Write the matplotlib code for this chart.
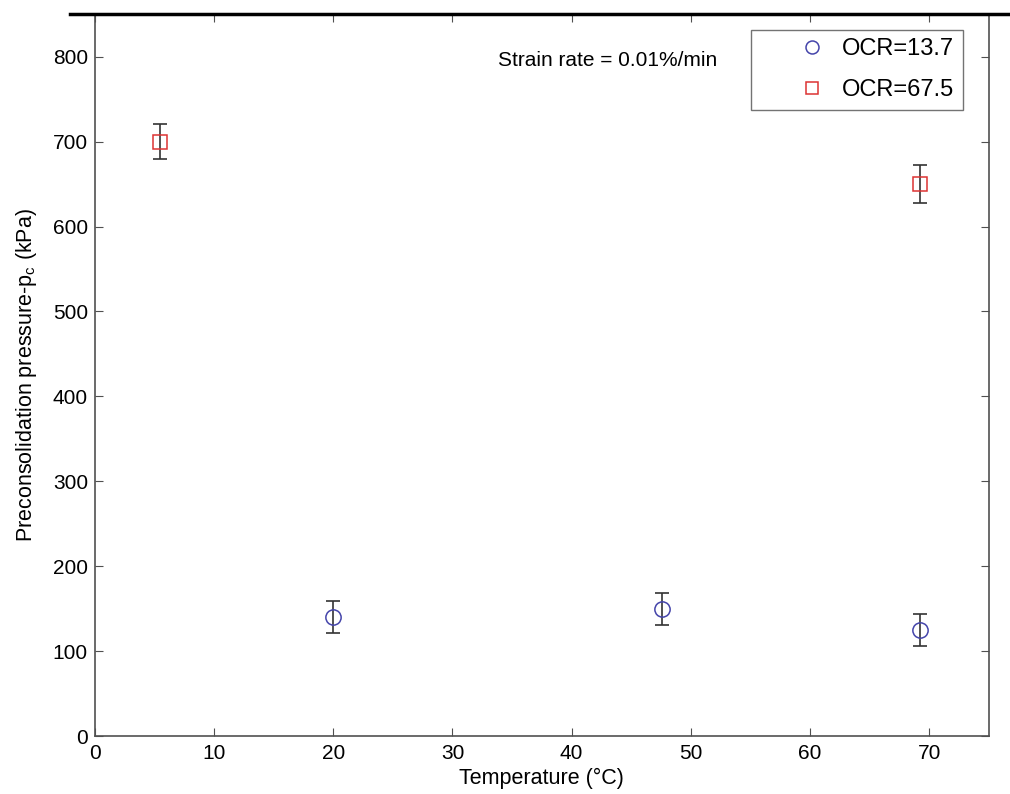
import matplotlib
matplotlib.use("Agg")
import matplotlib.pyplot as plt
from matplotlib.lines import Line2D

plt.rcParams.update({
    "font.family": ["Liberation Sans", "DejaVu Sans"],
    "font.size": 15,
})

# data
temp_low = [20.0, 47.6, 69.2]
pc_low = [140, 150, 125]
err_low = [19, 19, 19]

temp_high = [5.5, 69.2]
pc_high = [700, 650]
err_high = [21, 22]

SPINE = "#505050"

fig = plt.figure(figsize=(10.10, 7.94), dpi=100)
ax = fig.add_axes([0.094, 0.073, 0.885, 0.909])

ax.errorbar(temp_low, pc_low, yerr=err_low, fmt="none", ecolor="#333333",
            elinewidth=1.2, capsize=5, capthick=1.2)
ax.errorbar(temp_high, pc_high, yerr=err_high, fmt="none", ecolor="#333333",
            elinewidth=1.2, capsize=5, capthick=1.2)
ax.plot(temp_low, pc_low, "o", ms=11, mfc="none", mec="#4444aa", mew=1.1,
        label="OCR=13.7")
ax.plot(temp_high, pc_high, "s", ms=10, mfc="none", mec="#dd3333", mew=1.1,
        label="OCR=67.5")

ax.set_xlim(0, 75)
ax.set_ylim(0, 850)
ax.set_xticks(range(0, 71, 10))
ax.set_yticks(range(0, 801, 100))
ax.tick_params(direction="in", top=True, right=True, length=6,
               color=SPINE, labelsize=15)
ax.tick_params(axis="x", pad=6)
ax.tick_params(axis="y", pad=5)
for s in ax.spines.values():
    s.set_color(SPINE)
    s.set_linewidth(1.2)

ax.set_xlabel("Temperature (°C)", fontsize=15.5, labelpad=3)
ax.set_ylabel("Preconsolidation pressure-p$_\\mathregular{c}$ (kPa)",
              fontsize=15.5, labelpad=10)

ax.text(33.8, 795, "Strain rate = 0.01%/min", fontsize=15, va="center")

leg = ax.legend(loc="upper right", bbox_to_anchor=(0.971, 0.978),
                borderaxespad=0, fancybox=False, edgecolor=SPINE,
                fontsize=17, handletextpad=-0.97, borderpad=0.35,
                labelspacing=0.8, handlelength=4.5, markerscale=0.85)
leg.get_frame().set_linewidth(1.0)

# thick line across the top edge
fig.add_artist(Line2D([0.069, 1.0], [0.982, 0.982], color="black", lw=2.5,
                      transform=fig.transFigure))

fig.savefig("out.png", dpi=100)
